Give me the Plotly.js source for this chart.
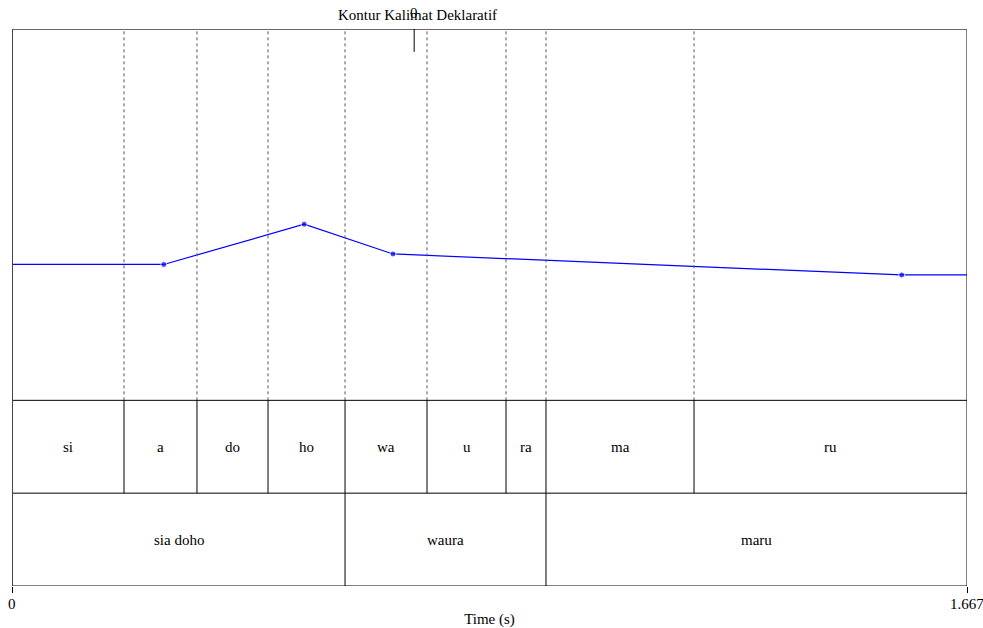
<!DOCTYPE html>
<html><head><meta charset="utf-8">
<script src="https://cdn.plot.ly/plotly-3.0.1.min.js"></script>
<style>html,body{margin:0;padding:0;background:#fff;}#chart{width:983px;height:628px;}</style>
</head><body><div id="chart"></div>
<script>
// Pitch contour (time s, pitch Hz)
const pitchTime = [0, 0.265, 0.510, 0.665, 1.553, 1.667];
const pitchHz   = [231, 231, 277, 243, 219, 219];
const pointSize = [0, 6, 6, 6, 6, 0];

// Tier 1 (syllables)
const syllables      = ["si", "a", "do", "ho", "wa", "u", "ra", "ma", "ru"];
const syllableBounds = [0, 0.1955, 0.3229, 0.4469, 0.5813, 0.7244, 0.8623, 0.9321, 1.1905, 1.667];

// Tier 2 (words)
const words      = ["sia doho", "waura", "maru"];
const wordBounds = [0, 0.5813, 0.9321, 1.667];

// Axis ticks
const tickValues = [0, 1.667];
const tickLabels = ["0", "1.667"];

const xMax = 1.667;
const cursorTime = 0.702;
const titleText = "Kontur Kalimat Deklaratif";

const font = {family: "Liberation Serif, Times New Roman, serif", size: 15, color: "#000"};

const shapes = [];
const annotations = [];

for (let i = 1; i < syllableBounds.length - 1; i++) {
  shapes.push({type: "line", xref: "x", yref: "y2", x0: syllableBounds[i], x1: syllableBounds[i], y0: 2, y1: 6,
    line: {color: "#555", width: 1, dash: "dot"}});
  shapes.push({type: "line", xref: "x", yref: "y2", x0: syllableBounds[i], x1: syllableBounds[i], y0: 1, y1: 2,
    line: {color: "#000", width: 1}});
}
for (let i = 1; i < wordBounds.length - 1; i++) {
  shapes.push({type: "line", xref: "x", yref: "y2", x0: wordBounds[i], x1: wordBounds[i], y0: 0, y1: 1,
    line: {color: "#000", width: 1}});
}
[1, 2].forEach(v => shapes.push({type: "line", xref: "x", yref: "y2", x0: 0, x1: xMax, y0: v, y1: v, line: {color: "#000", width: 1}}));
shapes.push({type: "rect", xref: "x", yref: "y2", x0: 0, x1: xMax, y0: 0, y1: 6, line: {color: "#000", width: 1}});
shapes.push({type: "line", xref: "x", yref: "y2", x0: 0, x1: xMax, y0: 6, y1: 6, line: {color: "#666", width: 2}});
shapes.push({type: "line", xref: "x", yref: "y2", x0: 0, x1: 0, y0: 0, y1: 6, line: {color: "#444", width: 2}});
shapes.push({type: "line", xref: "x", yref: "paper", x0: cursorTime, x1: cursorTime, y0: 0.959, y1: 1.0, line: {color: "#000", width: 1}});

for (let i = 0; i < syllables.length; i++) {
  annotations.push({x: (syllableBounds[i] + syllableBounds[i+1]) / 2, y: 1.5, xref: "x", yref: "y2",
    text: syllables[i], showarrow: false, font: font});
}
for (let i = 0; i < words.length; i++) {
  annotations.push({x: (wordBounds[i] + wordBounds[i+1]) / 2, y: 0.5, xref: "x", yref: "y2",
    text: words[i], showarrow: false, font: font});
}
for (let i = 0; i < tickValues.length; i++) {
  annotations.push({x: tickValues[i], y: 0, xref: "x", yref: "paper", yshift: -18, text: tickLabels[i],
    showarrow: false, font: font, yanchor: "middle", xanchor: "center"});
}
annotations.push({x: 0.708, y: 1.0, xref: "x", yref: "paper", yshift: 14, text: titleText, showarrow: false, font: font, yanchor: "middle"});
annotations.push({x: cursorTime, y: 1.0, xref: "x", yref: "paper", yshift: 16, text: "0", showarrow: false, font: font, yanchor: "middle"});

const traces = [
  {x: [0], y: [0], type: "scatter", mode: "markers", marker: {opacity: 0}, xaxis: "x", yaxis: "y2", hoverinfo: "skip"},
  {x: pitchTime, y: pitchHz, type: "scatter", mode: "lines+markers",
   line: {color: "#0000ff", width: 1.2}, marker: {color: "#0000ff", size: pointSize},
   xaxis: "x", yaxis: "y", hoverinfo: "skip"}
];

const layout = {
  width: 983, height: 628,
  margin: {l: 12, r: 16, t: 29, b: 42},
  paper_bgcolor: "#fff", plot_bgcolor: "rgba(0,0,0,0)",
  showlegend: false,
  font: font,
  xaxis: {range: [0, xMax], tickvals: tickValues, ticktext: ["", ""], ticks: "outside", ticklen: 6,
    tickcolor: "#000", showgrid: false, zeroline: false, showline: false, tickfont: font,
    title: {text: "Time (s)", font: font, standoff: 20}, anchor: "y2"},
  yaxis: {domain: [0.3321, 1], range: [75, 500], visible: false, showgrid: false, zeroline: false},
  yaxis2: {domain: [0, 1], range: [0, 6], visible: false, showgrid: false, zeroline: false},
  shapes: shapes,
  annotations: annotations
};

Plotly.newPlot("chart", traces, layout, {staticPlot: true});
</script>
</body></html>
